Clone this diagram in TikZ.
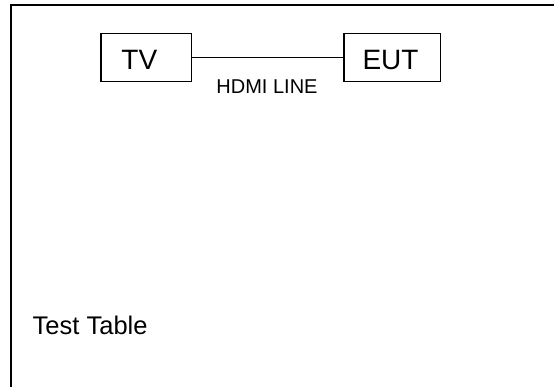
\documentclass[tikz,border=0pt]{standalone}
\usepackage{fontspec}
\setmainfont{Liberation Sans}
\begin{document}
\begin{tikzpicture}[x=1pt,y=1pt,
  devbox/.style={draw=black,line width=1.1pt,minimum width=#1,minimum height=48.4pt,inner sep=0pt},
  devtext/.style={font=\fontsize{28}{31}\selectfont,anchor=base,inner sep=0pt},
  frameline/.style={line width=1.3pt,draw=black}]
\useasboundingbox (0,0) rectangle (554,387);
\coordinate (ftr) at (554,382);
\coordinate (ftl) at (11,382);
\coordinate (fbl) at (11,0);
\draw[frameline] (ftr) -- (ftl) -- (fbl);
\node[devbox=90.7pt] (tv) at (146.3,329.5) {};
\node[devbox=96.7pt] (eut) at (392.3,329.5) {};
\node[devtext] (tvt) at (139.3,317.5) {TV};
\node[devtext] (eutt) at (390.5,317.5) {EUT};
\draw[line width=1pt] (tv.east) -- (eut.west);
\node[font=\fontsize{20}{23}\selectfont,anchor=base,inner sep=0pt] (hdmi) at (267,293.5) {HDMI LINE};
\node[font=\fontsize{25.5}{29}\selectfont,anchor=base west,inner sep=0pt] (tt) at (32.5,52) {Test Table};
\end{tikzpicture}
\end{document}
